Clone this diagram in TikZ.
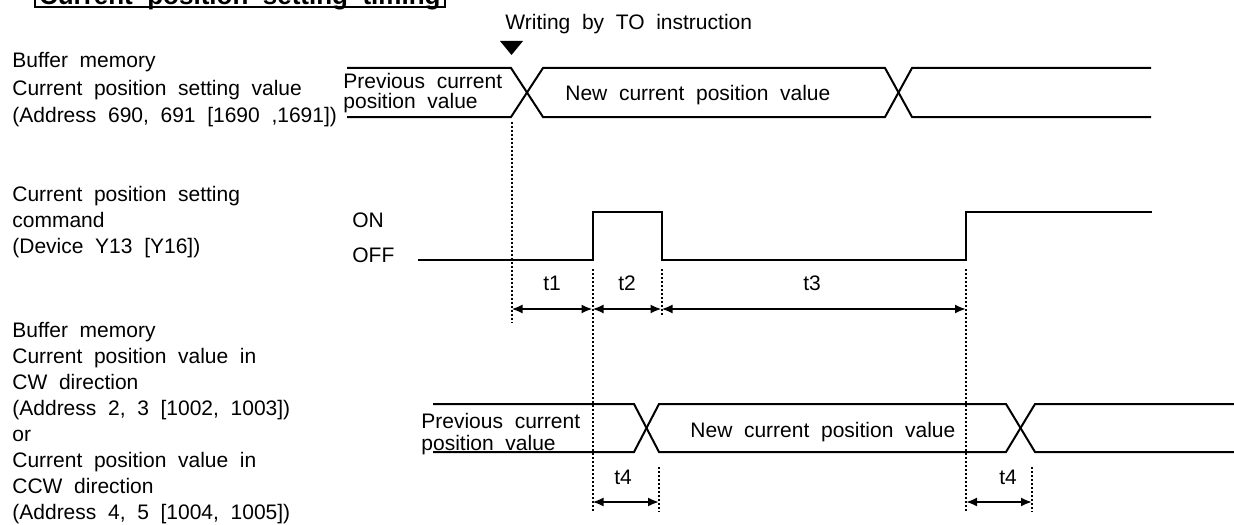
\documentclass[tikz,border=0pt]{standalone}
\usepackage{fontspec}
\setmainfont{Liberation Sans}[WordSpace=2]
\usetikzlibrary{arrows.meta}
\tikzstyle{wave} = [draw, line width=1pt]
\tikzstyle{guide} = [draw, line width=1pt, densely dotted]
\tikzstyle{line} = [draw, line width=1pt, {Latex[length=5.5pt,width=4.5pt]}-{Latex[length=5.5pt,width=4.5pt]}]
\tikzstyle{txt} = [inner sep=0pt, align=left, font=\fontsize{10.5}{13}\selectfont]
\tikzstyle{lbl} = [inner sep=0pt, font=\fontsize{10.5}{13}\selectfont]

\begin{document}
\begin{tikzpicture}[x=0.5pt, y=-0.5pt]
	\useasboundingbox (0,0) rectangle (1234,524);
	\node [draw, line width=1pt, anchor=south west, inner xsep=2pt, inner ysep=1pt, text depth=0pt, minimum width=204.5pt, font=\fontsize{13}{15}\selectfont\bfseries] (title) at (34,8) {Current position setting timing};
	
	\node [txt, anchor=north west, font=\fontsize{10.5}{13.75}\selectfont] (bufA) at (12,52) {Buffer memory\\Current position setting value\\(Address 690, 691 [1690 ,1691])};
	\node [txt, anchor=north west] (cmd) at (12,186) {Current position setting\\command\\(Device Y13 [Y16])};
	\node [txt, anchor=north west] (bufB) at (12,322) {Buffer memory\\Current position value in\\CW direction\\(Address 2, 3 [1002, 1003])\\or\\Current position value in\\CCW direction\\(Address 4, 5 [1004, 1005])};
	
	\node [lbl, anchor=base west] (wto) at (505,29.5) {Writing by TO instruction};
	\fill (500,41) -- (523,41) -- (511.5,55) -- cycle;
	
	\draw [wave] (347,68) -- (511,68) -- (543,117) -- (885,117) -- (912,68) -- (1151,68);
	\draw [wave] (347,117) -- (511,117) -- (543,68) -- (885,68) -- (912,117) -- (1151,117);
	\node [txt, anchor=north west, font=\fontsize{10.5}{10}\selectfont] (oldA) at (343,72.5) {Previous current\\position value};
	\node [lbl, anchor=base west] (newA) at (565,100) {New current position value};
	
	\node [lbl, anchor=base west] (on) at (352,227.5) {ON};
	\node [lbl, anchor=base west] (off) at (352,262.5) {OFF};
	\draw [wave] (418,260) -| (592.5,212) -| (661.5,260) -| (966,212) -- (1152,212);
	
	\draw [wave] (433,404) -- (634,404) -- (659,452) -- (1006,452) -- (1035,404) -- (1234,404);
	\draw [wave] (433,452) -- (634,452) -- (659,404) -- (1006,404) -- (1035,452) -- (1234,452);
	\node [txt, anchor=north west, font=\fontsize{10.5}{11}\selectfont] (oldB) at (421,412.5) {Previous current\\position value};
	\node [lbl, anchor=base west] (newB) at (690,437.5) {New current position value};
	
	\path [guide] (511.5,122) -- (511.5,323);
	\path [guide] (592.5,269) -- (592.5,512);
	\path [guide] (661.5,269) -- (661.5,315);
	\path [guide] (966,269) -- (966,512);
	\path [guide] (659,467) -- (659,512);
	\path [guide] (1032,467) -- (1032,512);
	
	\coordinate (a0) at (511.5,309);
	\coordinate (a1) at (592.5,309);
	\coordinate (a2) at (661.5,309);
	\coordinate (a3) at (966,309);
	\coordinate (b0) at (592.5,502);
	\coordinate (b1) at (659,502);
	\coordinate (b2) at (966,502);
	\coordinate (b3) at (1032,502);
	\path [line] (a0) -- (a1);
	\path [line] (a1) -- (a2);
	\path [line] (a2) -- (a3);
	\path [line] (b0) -- (b1);
	\path [line] (b2) -- (b3);
	
	\node [lbl] (t1) at (552,283) {t1};
	\node [lbl] (t2) at (627,283) {t2};
	\node [lbl] (t3) at (812,283) {t3};
	\node [lbl] (t4a) at (623,477) {t4};
	\node [lbl] (t4b) at (1008,477) {t4};
\end{tikzpicture}
\end{document}
